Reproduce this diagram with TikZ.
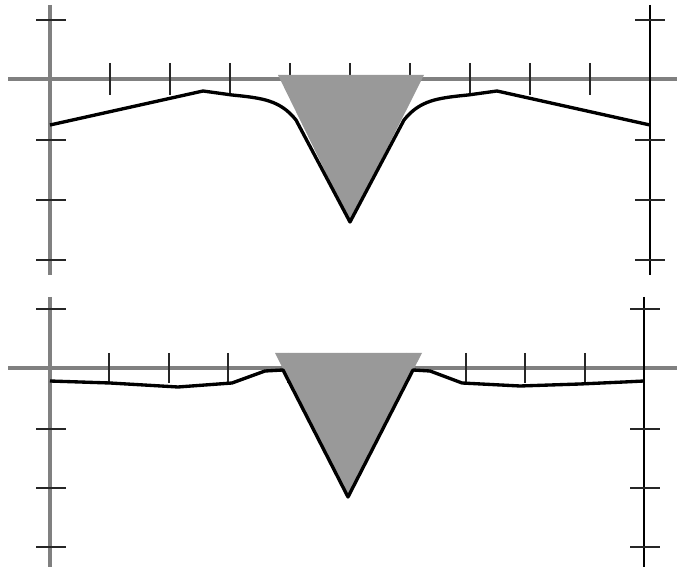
\documentclass[tikz,border=0pt]{standalone}
\usepackage{xcolor}
\usepackage{tikz}

\begin{document}
\begin{tikzpicture}[x=0.02cm, y=-0.02cm,
    axisline/.style={line width=1.9pt, black!50},
    rightaxis/.style={line width=1.3pt, black},
    tickmark/.style={line width=1.2pt, black!85},
    wedge/.style={fill=black!40},
    profile/.style={line width=1.9pt, black, line join=round}]
  \useasboundingbox (0,0) rectangle (677,567);

  % upper panel
  \draw[axisline] (8,79) -- (677,79);
  \draw[axisline] (50,5) -- (50,275);
  \draw[rightaxis] (650,5) -- (650,275);
  \foreach \y in {20,140,200,260} {
    \draw[tickmark] (36,\y) -- (66,\y);
    \draw[tickmark] (635,\y) -- (665,\y);
  }
  \foreach \k in {1,...,9}
    \draw[tickmark] (50+60*\k,63) -- (50+60*\k,95);
  \fill[wedge] (278,75) -- (424,75) -- (350,222) -- cycle;
  \draw[profile] (50,125) -- (203,91) -- (232,95)
    .. controls (262,98) and (280,100) .. (296,120) -- (350,222)
    -- (404,120) .. controls (420,100) and (438,98) .. (468,95)
    -- (497,91) -- (650,125);

  % lower panel
  \draw[axisline] (8,368) -- (677,368);
  \draw[axisline] (50,297) -- (50,567);
  \draw[rightaxis] (644,297) -- (644,567);
  \foreach \y in {309,429,488,547} {
    \draw[tickmark] (36,\y) -- (66,\y);
    \draw[tickmark] (630,\y) -- (660,\y);
  }
  \foreach \k in {1,...,9}
    \draw[tickmark] (50+59.4*\k,353) -- (50+59.4*\k,383);
  \fill[wedge] (275,353) -- (422,353) -- (348,497) -- cycle;
  \draw[profile] (50,381) -- (110,383) -- (178,387) -- (232,383)
    -- (265,371) -- (283,370) -- (348,497) -- (413,370) -- (430,371)
    -- (462,383) -- (520,386) -- (580,384) -- (624,382) -- (644,381);
\end{tikzpicture}
\end{document}
